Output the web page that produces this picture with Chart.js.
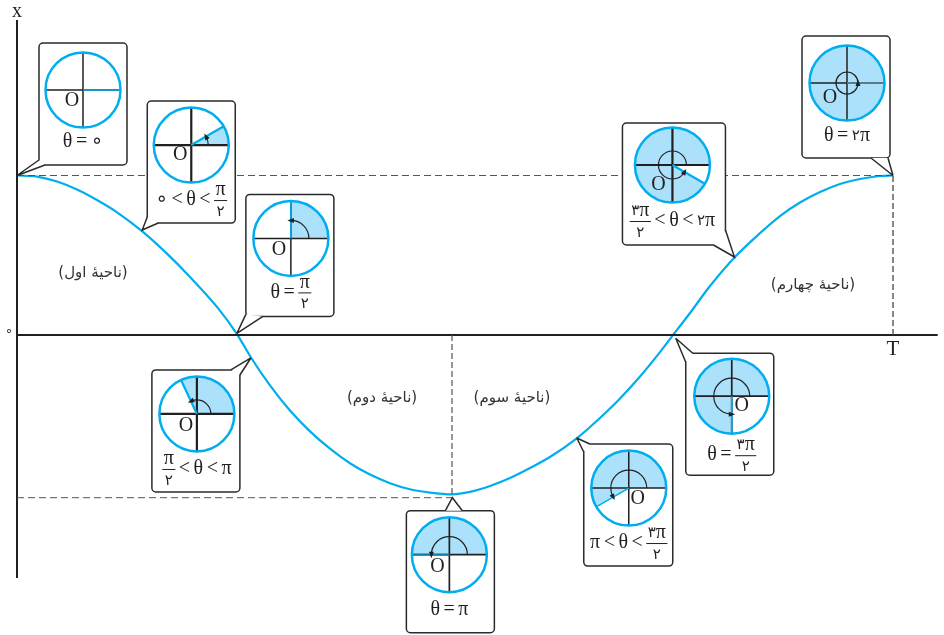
<!DOCTYPE html>
<html>
<head>
<meta charset="utf-8">
<style>
html, body { margin: 0; padding: 0; background: #fff; }
canvas { display: block; }
</style>
<script src="https://cdn.jsdelivr.net/npm/chart.js@4"></script>
</head>
<body>
<canvas id="chart" width="944" height="635"></canvas>
<script>
// curve, T = 1, amplitude = 1
var curveX = [0, 0.0228, 0.0457, 0.0685, 0.0913, 0.1142, 0.1427, 0.1712, 0.1975, 0.2283, 0.2511, 0.2671, 0.2888, 0.3116, 0.3345, 0.3573, 0.3801, 0.403, 0.4258, 0.4486, 0.4715, 0.4966, 0.5171, 0.54, 0.5628, 0.5856, 0.6084, 0.6393, 0.6655, 0.6884, 0.7112, 0.734, 0.7477, 0.7683, 0.7911, 0.8196, 0.8482, 0.871, 0.8938, 0.9167, 0.9395, 0.9623, 0.9852, 1];
var curveY = [1, 0.993, 0.962, 0.912, 0.846, 0.769, 0.651, 0.51, 0.364, 0.176, 0.006, -0.141, -0.316, -0.473, -0.604, -0.713, -0.804, -0.875, -0.929, -0.967, -0.988, -0.999, -0.984, -0.947, -0.897, -0.834, -0.765, -0.646, -0.52, -0.398, -0.26, -0.107, -0.009, 0.138, 0.307, 0.489, 0.639, 0.746, 0.831, 0.897, 0.947, 0.978, 0.997, 1];

// callouts: where each one points, the angle shown and the caption
var tipX = [0, 0.143, 0.251, 0.267, 0.497, 0.639, 0.752, 0.819, 1];
var tipY = [1, 0.658, 0.01, -0.144, -1.02, -0.646, -0.02, 0.489, 1];
var angles = [0, 30, 90, 115, 180, 210, 270, 330, 360];
var captions = ['θ = ∘', '∘ < θ < π/۲', 'θ = π/۲', 'π/۲ < θ < π', 'θ = π', 'π < θ < ۳π/۲', 'θ = ۳π/۲', '۳π/۲ < θ < ۲π', 'θ = ۲π'];

var regionNames = ['(ناحیهٔ اول)', '(ناحیهٔ دوم)', '(ناحیهٔ سوم)', '(ناحیهٔ چهارم)'];
var regionX = [0.0868, 0.4167, 0.565, 0.9087];
var regionY = [0.39, -0.395, -0.395, 0.31];

// box placement relative to the tip, in px
var layout = [
  { dx: 22, dy: -132.5, w: 88, cx: 44, cy: 47, ly: 99, r: 0, lw: 1.5, o: [-11, 11], tail: [[0, 117], [6, 122]] },
  { dx: 5, dy: -129, w: 88, cx: 44, cy: 44, ly: 99, r: 17, lw: 2.2, o: [-11, 10], tail: [[0, 116], [11, 122]] },
  { dx: 9, dy: -139, w: 88, cx: 45, cy: 44, ly: 98, r: 18, lw: 1.5, o: [-12, 11], tail: [[0, 120], [17, 122]] },
  { dx: -99, dy: 12, w: 88, cx: 45, cy: 44, ly: 99, r: 14, lw: 2.2, o: [-11, 12], tail: [[79, 0], [88, 5]] },
  { dx: -46, dy: 13, w: 88, cx: 43, cy: 44, ly: 99, r: 18, lw: 1.7, o: [-12, 12], tail: [[39, 0], [56, 0]] },
  { dx: 7, dy: 6, w: 89, cx: 45, cy: 44, ly: 99, r: 18, lw: 1.5, o: [9, 11], tail: [[0, 8], [6, 0]] },
  { dx: 10, dy: 15, w: 88, cx: 46, cy: 43, ly: 102, r: 18, lw: 1.7, o: [10, 10], tail: [[0, 9], [7, 0]] },
  { dx: -112, dy: -134, w: 103, cx: 50, cy: 42, ly: 98, r: 14, lw: 2.2, o: [-14, 20], tail: [[103, 107], [91, 122]] },
  { dx: -91, dy: -139.5, w: 88, cx: 45, cy: 47, ly: 100, r: 11, lw: 1.5, o: [-17, 15], tail: [[69, 122], [86, 122]] }
];

var SKY = '#00aeef', PALE = '#abe1fa', INK = '#231f20';
var SERIF = '"Liberation Serif", "DejaVu Sans", serif';
var DIGIT_FONT = '15px "DejaVu Sans"', MATH_FONT = '20px ' + SERIF;

function pairs(xs, ys) {
  return xs.map(function (x, i) { return { x: x, y: ys[i] }; });
}

function guide(data, width, dash) {
  return { data: data, borderColor: '#555', borderWidth: width, borderDash: dash, pointRadius: 0 };
}

function axisLine(data) {
  return { data: data, borderColor: INK, borderWidth: 2, pointRadius: 0 };
}

// Persian digits come from another font, so they are set one char at a time
function runFont(ch) {
  return (ch === '۲' || ch === '۳') ? DIGIT_FONT : MATH_FONT;
}

function runWidth(ctx, s) {
  var w = 0;
  Array.from(s).forEach(function (ch) {
    ctx.font = runFont(ch);
    w += ctx.measureText(ch).width;
  });
  return w;
}

function drawRun(ctx, s, x, y) {
  Array.from(s).forEach(function (ch) {
    ctx.font = runFont(ch);
    ctx.fillText(ch, x, y);
    x += ctx.measureText(ch).width;
  });
}

function drawCaption(ctx, text, cx, cy) {
  var tokens = text.split(' ');
  var gap = 3.5;
  ctx.textBaseline = 'middle';
  ctx.textAlign = 'left';
  ctx.direction = 'ltr';
  var widths = tokens.map(function (t) {
    if (t.indexOf('/') < 0) return runWidth(ctx, t);
    var p = t.split('/');
    return Math.max(runWidth(ctx, p[0]), runWidth(ctx, p[1])) + 3;
  });
  var total = widths.reduce(function (a, b) { return a + b; }, 0) + gap * (tokens.length - 1);
  var x = cx - total / 2;
  tokens.forEach(function (t, i) {
    if (t.indexOf('/') < 0) {
      drawRun(ctx, t, x, cy);
    } else {
      var p = t.split('/');
      drawRun(ctx, p[0], x + (widths[i] - runWidth(ctx, p[0])) / 2, cy - 10);
      drawRun(ctx, p[1], x + (widths[i] - runWidth(ctx, p[1])) / 2, cy + 12);
      ctx.strokeStyle = INK;
      ctx.lineWidth = 1;
      ctx.beginPath();
      ctx.moveTo(x, cy + 0.5);
      ctx.lineTo(x + widths[i], cy + 0.5);
      ctx.stroke();
    }
    x += widths[i] + gap;
  });
}

function drawDial(ctx, cx, cy, angle, l) {
  var R = 37.5;
  var end = -angle * Math.PI / 180;
  ctx.fillStyle = '#fff';
  ctx.beginPath();
  ctx.arc(cx, cy, R, 0, Math.PI * 2);
  ctx.fill();
  if (angle > 0) {
    ctx.fillStyle = PALE;
    ctx.beginPath();
    ctx.moveTo(cx, cy);
    ctx.arc(cx, cy, R, 0, end, true);
    ctx.closePath();
    ctx.fill();
  }
  // cross
  ctx.strokeStyle = INK;
  ctx.lineWidth = l.lw;
  ctx.beginPath();
  ctx.moveTo(cx - R, cy);
  ctx.lineTo(cx + R, cy);
  ctx.moveTo(cx, cy - R);
  ctx.lineTo(cx, cy + R);
  ctx.stroke();
  // terminal side of the angle
  ctx.strokeStyle = angle === 360 ? '#5f8ba3' : (angle === 180 ? '#0b82ab' : SKY);
  ctx.beginPath();
  ctx.moveTo(cx, cy);
  ctx.lineTo(cx + R * Math.cos(end), cy + R * Math.sin(end));
  ctx.stroke();
  // rim
  ctx.strokeStyle = SKY;
  ctx.lineWidth = 2.5;
  ctx.beginPath();
  ctx.arc(cx, cy, R, 0, Math.PI * 2);
  ctx.stroke();
  // angle arc with arrow head
  if (angle > 0) {
    ctx.strokeStyle = INK;
    ctx.lineWidth = 1.2;
    ctx.beginPath();
    ctx.arc(cx, cy, l.r, 0, end, true);
    ctx.stroke();
    ctx.save();
    ctx.translate(cx + l.r * Math.cos(end), cy + l.r * Math.sin(end));
    ctx.rotate(end - Math.PI / 2);
    ctx.fillStyle = INK;
    ctx.beginPath();
    ctx.moveTo(3.5, 0);
    ctx.lineTo(-3, -2.5);
    ctx.lineTo(-3, 2.5);
    ctx.closePath();
    ctx.fill();
    ctx.restore();
  }
  ctx.fillStyle = INK;
  ctx.font = '20px ' + SERIF;
  ctx.textAlign = 'center';
  ctx.textBaseline = 'middle';
  ctx.fillText('O', cx + l.o[0], cy + l.o[1]);
}

var callouts = {
  id: 'callouts',
  afterDatasetsDraw: function (chart) {
    var ctx = chart.ctx, sx = chart.scales.x, sy = chart.scales.y;
    ctx.save();

    // axis names and ticks
    ctx.fillStyle = INK;
    ctx.textAlign = 'center';
    ctx.textBaseline = 'middle';
    ctx.font = '20px ' + SERIF;
    ctx.fillText('x', sx.getPixelForValue(0), 12);
    ctx.font = '21px ' + SERIF;
    ctx.fillText('T', sx.getPixelForValue(1), 349);
    ctx.font = '13px "DejaVu Sans"';
    ctx.fillText('∘', sx.getPixelForValue(0) - 8, sy.getPixelForValue(0) - 3);

    // region names
    ctx.fillStyle = '#333';
    ctx.font = '15px "DejaVu Sans"';
    ctx.direction = 'rtl';
    regionNames.forEach(function (name, i) {
      ctx.fillText(name, sx.getPixelForValue(regionX[i]), sy.getPixelForValue(regionY[i]));
    });
    ctx.direction = 'ltr';

    ctx.miterLimit = 3;
    tipX.forEach(function (v, i) {
      var l = layout[i], h = 122;
      var tx = sx.getPixelForValue(v), ty = sy.getPixelForValue(tipY[i]);
      var bx = tx + l.dx, by = ty + l.dy;

      ctx.strokeStyle = '#2b2b2b';
      ctx.lineWidth = 1.5;
      ctx.fillStyle = '#fff';
      ctx.beginPath();
      ctx.roundRect(bx, by, l.w, h, 4);
      ctx.fill();
      ctx.stroke();

      // tail
      ctx.beginPath();
      ctx.moveTo(bx + l.tail[0][0], by + l.tail[0][1]);
      ctx.lineTo(tx, ty);
      ctx.lineTo(bx + l.tail[1][0], by + l.tail[1][1]);
      ctx.closePath();
      ctx.fill();
      ctx.beginPath();
      ctx.moveTo(bx + l.tail[0][0], by + l.tail[0][1]);
      ctx.lineTo(tx, ty);
      ctx.lineTo(bx + l.tail[1][0], by + l.tail[1][1]);
      ctx.stroke();

      drawDial(ctx, bx + l.cx, by + l.cy, angles[i], l);
      ctx.fillStyle = INK;
      drawCaption(ctx, captions[i], bx + l.cx, by + l.ly);
    });
    ctx.restore();
  }
};

new Chart(document.getElementById('chart').getContext('2d'), {
  type: 'line',
  plugins: [callouts],
  data: {
    datasets: [
      guide([{ x: 0, y: 1 }, { x: 1, y: 1 }], 1, [7, 4]),
      guide([{ x: 0, y: -1.02 }, { x: 0.4966, y: -1.02 }], 1, [7, 4]),
      guide([{ x: 0.4966, y: 0 }, { x: 0.4966, y: -1.02 }], 1.2, [6, 3]),
      guide([{ x: 1, y: 0 }, { x: 1, y: 1 }], 1.4, [6, 3]),
      axisLine([{ x: 0, y: 0 }, { x: 1.051, y: 0 }]),
      axisLine([{ x: 0, y: 1.975 }, { x: 0, y: -1.524 }]),
      {
        data: pairs(curveX, curveY),
        borderColor: SKY,
        borderWidth: 2.2,
        pointRadius: 0,
        cubicInterpolationMode: 'monotone'
      }
    ]
  },
  options: {
    responsive: false,
    animation: false,
    parsing: false,
    layout: { padding: 0 },
    plugins: { legend: { display: false }, tooltip: { enabled: false } },
    scales: {
      x: { type: 'linear', display: false, min: -17 / 876, max: 927 / 876 },
      y: { type: 'linear', display: false, min: -300 / 159.5, max: 335 / 159.5 }
    }
  }
});
</script>
</body>
</html>
